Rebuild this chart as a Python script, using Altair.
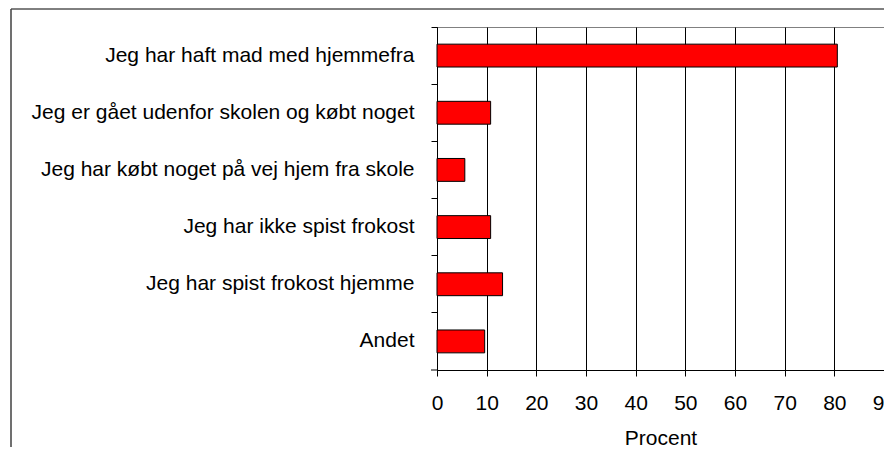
import altair as alt
import pandas as pd

categories = [
    "Jeg har haft mad med hjemmefra",
    "Jeg er gået udenfor skolen og købt noget",
    "Jeg har købt noget på vej hjem fra skole",
    "Jeg har ikke spist frokost",
    "Jeg har spist frokost hjemme",
    "Andet",
]
values = [80.6, 10.8, 5.6, 10.8, 13.2, 9.6]
x_ticks = [0, 10, 20, 30, 40, 50, 60, 70, 80, 90]

df = pd.DataFrame({"cat": categories, "val": values})
FONT = "Liberation Sans"
FS = 21

bars = alt.Chart(df).mark_bar(color="#FF0000", stroke="#000000", strokeWidth=1).encode(
    x=alt.X(
        "val:Q",
        scale=alt.Scale(domain=[0, 90], nice=False, zero=True),
        axis=alt.Axis(
            values=x_ticks, title="Procent", grid=True, gridColor="#000000",
            gridOpacity=1, gridWidth=1, domainColor="#000000", tickColor="#000000",
            tickSize=6, labelFontSize=FS, labelFont=FONT, labelColor="#000000",
            labelPadding=16, titleFont=FONT, titleFontSize=FS, titleFontWeight="normal",
            titleColor="#000000", titlePadding=14, labelFlush=False,
        ),
    ),
    y=alt.Y(
        "cat:N", sort=categories,
        scale=alt.Scale(paddingInner=0.6, paddingOuter=0.3),
        axis=alt.Axis(
            title=None, bandPosition=-0.75, grid=False, domainColor="#000000",
            tickColor="#000000", tickSize=6, labelFontSize=FS, labelFont=FONT,
            labelColor="#000000", labelPadding=17, labelLimit=0,
        ),
    ),
)

one = pd.DataFrame({"a": [0]})
frame_top = alt.Chart(one).mark_rule(color="#000000", strokeWidth=1).encode(
    x=alt.value(-426), x2=alt.value(460), y=alt.value(-18)
)
frame_left = alt.Chart(one).mark_rule(color="#404040", strokeWidth=1.5).encode(
    x=alt.value(-426), y=alt.value(-18), y2=alt.value(440)
)
bottom_tick = alt.Chart(one).mark_rule(color="#000000", strokeWidth=1).encode(
    x=alt.value(-6), x2=alt.value(0), y=alt.value(343)
)

chart = alt.layer(bars, frame_top, frame_left, bottom_tick).properties(
    width=447, height=343,
    autosize=alt.AutoSizeParams(type="none"),
    padding={"left": 429, "top": 19, "right": 0, "bottom": 77},
).configure_view(stroke="#808080", strokeWidth=1)

chart.save("out.html", embed_options={"renderer": "svg", "actions": False})
